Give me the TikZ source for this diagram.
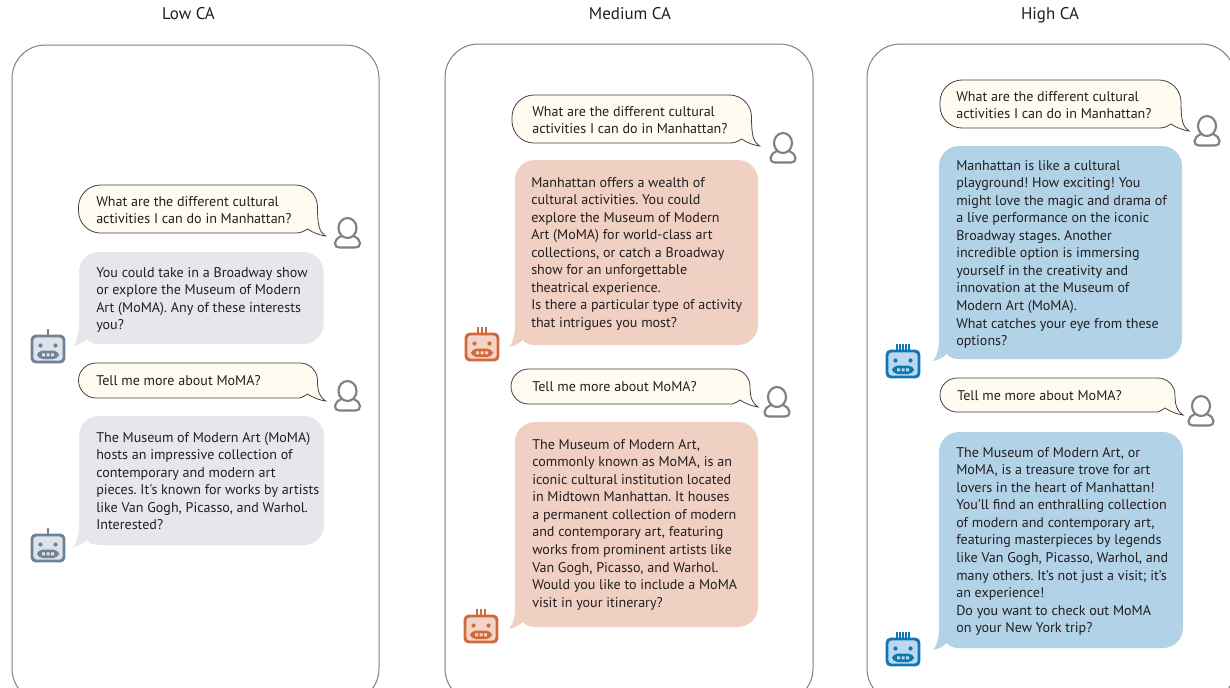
\documentclass[tikz,border=0pt]{standalone}
\usepackage{fontspec}
\newfontfamily\uifont{PT Sans}
\frenchspacing
\definecolor{ink}{HTML}{231F20}
\definecolor{panelline}{HTML}{808080}
\definecolor{cream}{HTML}{FFFBF0}
\definecolor{greyfill}{HTML}{E6E7EC}
\definecolor{orangefill}{HTML}{F0D0C3}
\definecolor{bluefill}{HTML}{B2D2E8}
\definecolor{greybot}{HTML}{6D8296}
\definecolor{orangebot}{HTML}{D2693A}
\definecolor{bluebot}{HTML}{0F75B5}
\definecolor{greyface}{HTML}{DDE3E8}
\definecolor{orangeface}{HTML}{F3D5C8}
\definecolor{blueface}{HTML}{BBD8EC}
\tikzset{
  panel/.style={draw=panelline,line width=0.75pt,fill=white},
  ubub/.style={draw=ink!85,line width=0.6pt,fill=cream},
  msgtext/.style={font=\uifont\fontsize{10.55}{13.15}\selectfont,text=ink,align=left,anchor=north west,inner sep=0pt,yshift=-2.25pt},
  headtext/.style={font=\uifont\fontsize{12.7}{15}\selectfont,text=ink,anchor=base,inner sep=0pt},
}
% user bubble: name x1 y1 x2 y2 radius text-x text-y text
\newcommand{\userbubble}[9]{%
  \pgfmathsetmacro{\xa}{#2}\pgfmathsetmacro{\ya}{#3}\pgfmathsetmacro{\xb}{#4}\pgfmathsetmacro{\yb}{#5}\pgfmathsetmacro{\rr}{#6}
  \draw[ubub] (\xa+\rr,\ya) -- (\xb-\rr,\ya)
    .. controls (\xb-.45*\rr,\ya) and (\xb,\ya+.45*\rr) .. (\xb,\ya+\rr)
    .. controls (\xb,\yb-7) and (\xb+2,\yb-1) .. (\xb+8,\yb+3)
    .. controls (\xb+2,\yb+2) and (\xb-4,\yb) .. (\xb-10,\yb-4)
    .. controls (\xb-14,\yb-1) and (\xb-18,\yb) .. (\xb-\rr,\yb)
    -- (\xa+\rr,\yb)
    .. controls (\xa+.45*\rr,\yb) and (\xa,\yb-.45*\rr) .. (\xa,\yb-\rr)
    -- (\xa,\ya+\rr)
    .. controls (\xa,\ya+.45*\rr) and (\xa+.45*\rr,\ya) .. (\xa+\rr,\ya) -- cycle;
  \node[msgtext] (#1) at (#7,#8) {#9};
}
% bot bubble: name x1 y1 x2 y2 fill text-x text-y text
\newcommand{\botbubble}[9]{%
  \pgfmathsetmacro{\xa}{#2}\pgfmathsetmacro{\ya}{#3}\pgfmathsetmacro{\xb}{#4}\pgfmathsetmacro{\yb}{#5}\pgfmathsetmacro{\rr}{20}
  \fill[#6] (\xa+\rr,\ya) -- (\xb-\rr,\ya)
    .. controls (\xb-.45*\rr,\ya) and (\xb,\ya+.45*\rr) .. (\xb,\ya+\rr)
    -- (\xb,\yb-\rr)
    .. controls (\xb,\yb-.45*\rr) and (\xb-.45*\rr,\yb) .. (\xb-\rr,\yb)
    -- (\xa+\rr,\yb)
    .. controls (\xa+14,\yb) and (\xa+10,\yb-2) .. (\xa+8,\yb-5)
    .. controls (\xa+4,\yb-2) and (\xa,\yb+1) .. (\xa-6,\yb+2)
    .. controls (\xa-1,\yb-4) and (\xa,\yb-12) .. (\xa,\yb-\rr)
    -- (\xa,\ya+\rr)
    .. controls (\xa,\ya+.45*\rr) and (\xa+.45*\rr,\ya) .. (\xa+\rr,\ya) -- cycle;
  \node[msgtext] (#1) at (#7,#8) {#9};
}
% user icon at centre of head
\newcommand{\usericon}[2]{%
  \begin{scope}[shift={(#1,#2)},draw=panelline,line width=1.6pt]
    \draw (0,0) ellipse [x radius=9,y radius=10];
    \draw (-6,8) .. controls (-10,10) and (-12.5,12) .. (-12.5,15)
      .. controls (-12.5,18) and (-11,19.5) .. (-8,19.5) -- (8,19.5)
      .. controls (11,19.5) and (12.5,18) .. (12.5,15)
      .. controls (12.5,12) and (10,10) .. (6,8);
  \end{scope}
}
% robot icon: centre x, y, line colour, face colour, antenna list
\newcommand{\roboticon}[5]{%
  \begin{scope}[shift={(#1,#2)}]
    \foreach \ax in {#5} \draw[#3,line width=1.2pt] (\ax,-14) -- (\ax,-20);
    \draw[#3,fill=#4,line width=2.2pt,rounded corners=3] (-16,-13) rectangle (16,13);
    \fill[#3] (-7.5,-3.5) circle (2.1) (7.5,-3.5) circle (2.1);
    \fill[#3,rounded corners=4.2] (-11,1.5) rectangle (11,10);
    \fill[#4] (-6,4.3) rectangle (-3,7.3) (-1.5,4.3) rectangle (1.5,7.3) (3,4.3) rectangle (6,7.3);
  \end{scope}
}
\begin{document}
\begin{tikzpicture}[x=0.75pt,y=-0.75pt]
\useasboundingbox (0,0) rectangle (1230,687);
\begin{scope}
\clip (0,0) rectangle (1230,687);
\fill[white] (0,0) rectangle (1230,687);
\draw[panel,rounded corners=25] (12,45) rectangle (379,702);
\draw[panel,rounded corners=25] (445,44) rectangle (813,702);
\draw[panel,rounded corners=25] (867,44) rectangle (1235,702);
\end{scope}
\node[headtext] (lowhead) at (188.5,19) {Low CA};
\node[headtext] (medhead) at (630,19) {Medium CA};
\node[headtext] (highhead) at (1050,19) {High CA};

% Low CA
\userbubble{lowuserone}{78.5}{185}{317.5}{233}{22}{96}{193}{What are the different cultural\\activities I can do in Manhattan?}
\usericon{347.5}{228}
\botbubble{lowbotone}{79}{252}{323.5}{344}{greyfill}{96}{264}{You could take in a Broadway show\\or explore the Museum of Modern\\Art (MoMA). Any of these interests\\you?}
\roboticon{48}{349}{greybot}{greyface}{0}
\userbubble{lowusertwo}{78.5}{363}{317.5}{398}{17.5}{96}{372}{Tell me more about MoMA?}
\usericon{347.5}{391}
\botbubble{lowbottwo}{79}{416}{324}{545}{greyfill}{96}{429}{The Museum of Modern Art (MoMA)\\hosts an impressive collection of\\contemporary and modern art\\pieces. It's known for works by artists\\like Van Gogh, Picasso, and Warhol.\\Interested?}
\roboticon{48}{548}{greybot}{greyface}{0}

% Medium CA
\userbubble{meduserone}{512}{95}{751.5}{143}{22}{532}{103}{What are the different cultural\\activities I can do in Manhattan?}
\usericon{783}{143}
\botbubble{medbotone}{515}{160}{758}{345}{orangefill}{531}{174}{Manhattan offers a wealth of\\cultural activities. You could\\explore the Museum of Modern\\Art (MoMA) for world-class art\\collections, or catch a Broadway\\show for an unforgettable\\theatrical experience.\\Is there a particular type of activity\\that intrigues you most?}
\roboticon{482}{347}{orangebot}{orangeface}{-4,0,4}
\userbubble{medusertwo}{511}{369}{750}{404}{17.5}{532}{378}{Tell me more about MoMA?}
\usericon{777}{397}
\botbubble{medbottwo}{515}{422}{758}{627}{orangefill}{532}{436}{The Museum of Modern Art,\\commonly known as MoMA, is an\\iconic cultural institution located\\in Midtown Manhattan. It houses\\a permanent collection of modern\\and contemporary art, featuring\\works from prominent artists like\\Van Gogh, Picasso, and Warhol.\\Would you like to include a MoMA\\visit in your itinerary?}
\roboticon{481}{629}{orangebot}{orangeface}{-4,0,4}

% High CA
\userbubble{highuserone}{940}{80}{1181}{128}{22}{956}{88}{What are the different cultural\\activities I can do in Manhattan?}
\usericon{1207}{126}
\botbubble{highbotone}{939}{146}{1182}{359}{bluefill}{956}{157}{Manhattan is like a cultural\\playground! How exciting! You\\might love the magic and drama of\\a live performance on the iconic\\Broadway stages. Another\\incredible option is immersing\\yourself in the creativity and\\innovation at the Museum of\\Modern Art (MoMA).\\What catches your eye from these\\options?}
\roboticon{903}{364}{bluebot}{blueface}{-6,-3,0,3,6}
\userbubble{highusertwo}{940}{378}{1175}{412}{17}{957}{387}{Tell me more about MoMA?}
\usericon{1201}{406}
\botbubble{highbottwo}{939}{432}{1183}{648}{bluefill}{956}{444}{The Museum of Modern Art, or\\MoMA, is a treasure trove for art\\lovers in the heart of Manhattan!\\You’ll find an enthralling collection\\of modern and contemporary art,\\featuring masterpieces by legends\\like Van Gogh, Picasso, Warhol, and\\many others. It’s not just a visit; it’s\\an experience!\\Do you want to check out MoMA\\on your New York trip?}
\roboticon{903}{652}{bluebot}{blueface}{-6,-3,0,3,6}
\end{tikzpicture}
\end{document}
